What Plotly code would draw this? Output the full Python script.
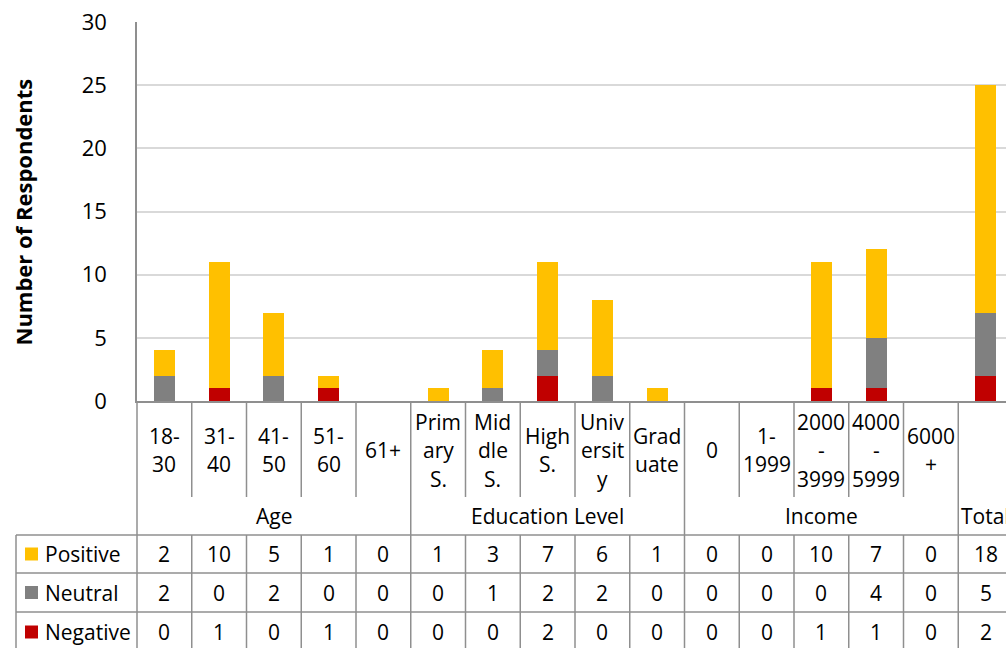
import plotly.graph_objects as go

# ---- data -------------------------------------------------------------
CATEGORIES = ["18-30", "31-40", "41-50", "51-60", "61+",
              "Primary S.", "Middle S.", "High S.", "University", "Graduate",
              "0", "1-1999", "2000-3999", "4000-5999", "6000+", "Total"]
# wrapped form of each category as it appears in the narrow table cells
CATEGORY_LINES = [["18-", "30"], ["31-", "40"], ["41-", "50"], ["51-", "60"], ["61+"],
                  ["Prim", "ary", "S."], ["Mid", "dle", "S."], ["High", "S."],
                  ["Univ", "ersit", "y"], ["Grad", "uate"],
                  ["0"], ["1-", "1999"], ["2000", "-", "3999"], ["4000", "-", "5999"],
                  ["6000", "+"], []]
GROUPS = ["Age", "Education Level", "Income", "Total"]
GROUP_SPANS = [(0, 4), (5, 9), (10, 14), (15, 15)]

POSITIVE = [2, 10, 5, 1, 0, 1, 3, 7, 6, 1, 0, 0, 10, 7, 0, 18]
NEUTRAL = [2, 0, 2, 0, 0, 0, 1, 2, 2, 0, 0, 0, 0, 4, 0, 5]
NEGATIVE = [0, 1, 0, 1, 0, 0, 0, 2, 0, 0, 0, 0, 1, 1, 0, 2]

SERIES = [("Positive", POSITIVE, "#FFC000"),
          ("Neutral", NEUTRAL, "#808080"),
          ("Negative", NEGATIVE, "#C00000")]

Y_TICKS = [0, 5, 10, 15, 20, 25, 30]

# ---- layout geometry (pixels) ----------------------------------------
W, H = 1006, 648
PLOT_L, PLOT_T, PLOT_B = 137, 22, 401
STEP = 54.75                      # width of one category column
PLOT_W = W - PLOT_L
PLOT_H = PLOT_B - PLOT_T
X_MAX = -0.5 + PLOT_W / STEP

LINE = "#8F8F8F"
FONT = "Open Sans"
FS = 21


def py(px):
    return (PLOT_B - px) / PLOT_H


def pxp(px):
    return (px - PLOT_L) / PLOT_W


x_idx = list(range(len(CATEGORIES)))

fig = go.Figure()
# stacked from the bottom: Negative, Neutral, Positive
for name, vals, col in reversed(SERIES):
    fig.add_trace(go.Bar(x=x_idx, y=vals, name=name, width=0.385,
                         marker=dict(color=col, line=dict(width=0)),
                         hoverinfo="y+name"))

shapes = []
annotations = []

# table row boundaries
LABEL_BOTTOM = 497
GROUP_BOTTOM = 535
ROW_EDGES = [535, 573, 612, 652]

group_edges = {s for s, _ in GROUP_SPANS[1:]}
for k in range(1, len(CATEGORIES)):
    xv = k - 0.5
    if k in group_edges:
        shapes.append(dict(type="line", xref="x", yref="paper", x0=xv, x1=xv,
                           y0=py(PLOT_B), y1=py(ROW_EDGES[-1]),
                           line=dict(color=LINE, width=1.5)))
    else:
        shapes.append(dict(type="line", xref="x", yref="paper", x0=xv, x1=xv,
                           y0=py(PLOT_B), y1=py(LABEL_BOTTOM),
                           line=dict(color=LINE, width=1.5)))
        shapes.append(dict(type="line", xref="x", yref="paper", x0=xv, x1=xv,
                           y0=py(GROUP_BOTTOM), y1=py(ROW_EDGES[-1]),
                           line=dict(color=LINE, width=1.5)))

# left edge of the category area continues the value axis downward
shapes.append(dict(type="line", xref="paper", yref="paper", x0=0, x1=0,
                   y0=py(PLOT_B), y1=py(ROW_EDGES[-1]),
                   line=dict(color=LINE, width=1.5)))
# legend column border
shapes.append(dict(type="line", xref="paper", yref="paper", x0=pxp(16), x1=pxp(16),
                   y0=py(ROW_EDGES[0]), y1=py(ROW_EDGES[-1]),
                   line=dict(color=LINE, width=1.5)))
for yy in ROW_EDGES:
    shapes.append(dict(type="line", xref="paper", yref="paper", x0=pxp(16), x1=1.05,
                       y0=py(yy), y1=py(yy), line=dict(color=LINE, width=1.5)))

# category labels (one annotation per wrapped line)
LABEL_MID, LABEL_LH = 450, 28.5
for k, lines in enumerate(CATEGORY_LINES):
    n = len(lines)
    for i, t in enumerate(lines):
        yy = LABEL_MID + (i - (n - 1) / 2) * LABEL_LH
        annotations.append(dict(x=k, y=py(yy), xref="x", yref="paper", text=t,
                                showarrow=False, xanchor="center", yanchor="middle",
                                font=dict(family=FONT, size=FS, color="#000")))

# group labels
for g, (s, e) in zip(GROUPS, GROUP_SPANS):
    annotations.append(dict(x=(s + e) / 2, y=py(516), xref="x", yref="paper", text=g,
                            showarrow=False, xanchor="center", yanchor="middle",
                            font=dict(family=FONT, size=FS, color="#000")))

# data rows with legend keys
for r, (name, vals, col) in enumerate(SERIES):
    top, bot = ROW_EDGES[r], ROW_EDGES[r + 1]
    mid = (top + bot) / 2
    shapes.append(dict(type="rect", xref="paper", yref="paper",
                       x0=pxp(25), x1=pxp(38), y0=py(mid - 6.5), y1=py(mid + 6.5),
                       fillcolor=col, line=dict(width=0)))
    annotations.append(dict(x=pxp(43), y=py(mid), xref="paper", yref="paper", text=name,
                            showarrow=False, xanchor="left", yanchor="middle",
                            font=dict(family=FONT, size=FS, color="#000")))
    for k, v in enumerate(vals):
        annotations.append(dict(x=k, y=py(mid), xref="x", yref="paper", text=str(v),
                                showarrow=False, xanchor="center", yanchor="middle",
                                font=dict(family=FONT, size=FS, color="#000")))

# value-axis title
annotations.append(dict(x=pxp(22), y=py(211.5), xref="paper", yref="paper",
                        text="<b>Number of Respondents</b>", textangle=-90,
                        showarrow=False, xanchor="center", yanchor="middle",
                        font=dict(family=FONT, size=22, color="#000")))

fig.update_layout(
    width=W, height=H,
    margin=dict(l=PLOT_L, r=W - PLOT_L - PLOT_W, t=PLOT_T, b=H - PLOT_B),
    paper_bgcolor="white", plot_bgcolor="white",
    barmode="stack", bargap=0, showlegend=False,
    shapes=shapes, annotations=annotations,
    font=dict(family=FONT, size=FS, color="#000"),
    xaxis=dict(range=[-0.5, X_MAX], showticklabels=False, showgrid=False,
               zeroline=False, showline=True, linecolor=LINE, linewidth=1.5,
               ticks=""),
    yaxis=dict(range=[0, 30], tickvals=Y_TICKS, showgrid=True, gridcolor="#D9D9D9",
               gridwidth=1.5, zeroline=False, showline=True, linecolor=LINE,
               linewidth=1.5, ticks="", ticklabelstandoff=24,
               tickfont=dict(family=FONT, size=22, color="#000")),
)

fig.write_html("out.html")
